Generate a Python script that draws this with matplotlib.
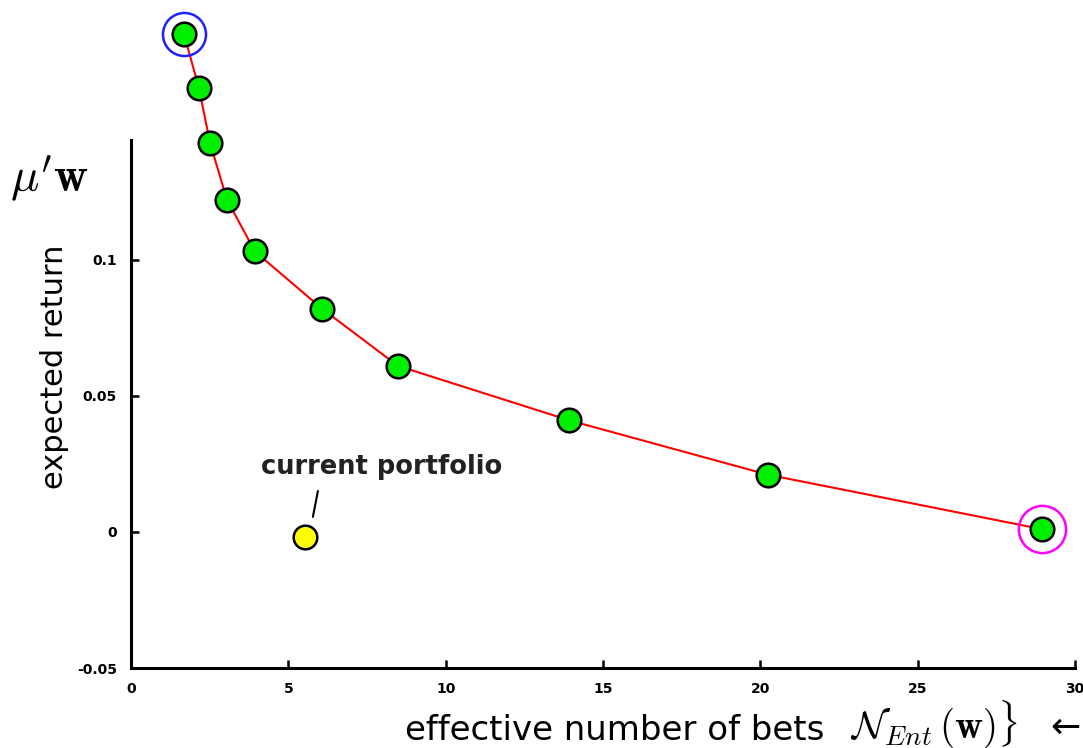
import matplotlib
matplotlib.use("Agg")
import matplotlib.pyplot as plt

# data
frontier_x = [1.68, 2.16, 2.51, 3.05, 3.94, 6.07, 8.48, 13.92, 20.24, 28.95]
frontier_y = [0.183, 0.163, 0.143, 0.122, 0.103, 0.082, 0.061, 0.041, 0.021, 0.001]
current_x = [5.53]
current_y = [-0.0018]
x_ticks = [0, 5, 10, 15, 20, 25, 30]
x_ticklabels = ["0", "5", "10", "15", "20", "25", "30"]
y_ticks = [-0.05, 0, 0.05, 0.1]
y_ticklabels = ["-0.05", "0", "0.05", "0.1"]

plt.rcParams['mathtext.fontset'] = 'cm'
fig = plt.figure(figsize=(10.83, 7.48), dpi=100)
ax = fig.add_axes([131/1083, 1 - 668/748, (1075-131)/1083, (668-140)/748])
ax.set_xlim(0, 30)
ax.set_ylim(-0.05, (533-140)/2730)

ax.plot(frontier_x, frontier_y, color='#ff0000', lw=1.5, zorder=2, clip_on=False)
ax.plot(frontier_x, frontier_y, 'o', ms=17, mfc='#00ee00', mec='black', mew=1.8,
        zorder=3, clip_on=False)
ax.plot(current_x, current_y, 'o', ms=17, mfc='#ffff00', mec='black', mew=1.8,
        zorder=3, clip_on=False)
# highlight rings
ax.plot(frontier_x[:1], frontier_y[:1], 'o', ms=31, mfc='none', mec='#2020ff', mew=1.8,
        zorder=4, clip_on=False)
ax.plot(frontier_x[-1:], frontier_y[-1:], 'o', ms=34, mfc='none', mec='#ff00ff', mew=1.8,
        zorder=4, clip_on=False)

ax.text(7.98, 0.0238, 'current portfolio', ha='center', va='center', fontsize=18.5,
        fontweight='bold', color='#222222')
ax.annotate('', xy=(5.78, 0.0055), xytext=(5.94, 0.015),
            arrowprops=dict(arrowstyle='-', color='black', lw=1.5,
                            shrinkA=0, shrinkB=0))

for s in ['top', 'right']:
    ax.spines[s].set_visible(False)
for s in ['left', 'bottom']:
    ax.spines[s].set_linewidth(2.2)
ax.set_xticks(x_ticks)
ax.set_xticklabels(x_ticklabels)
ax.set_yticks(y_ticks)
ax.set_yticklabels(y_ticklabels)
ax.tick_params(direction='in', length=6, width=1.8, labelsize=10, pad=10)
for lab in ax.get_xticklabels() + ax.get_yticklabels():
    lab.set_fontweight('bold')

ax.set_ylabel('expected return', fontsize=22)
ax.yaxis.set_label_coords(-0.066, 0.57)

fig.text(405/1083, 1 - 731/748, 'effective number of bets', fontsize=24.5,
         ha='left', va='center')
fig.text(850/1083, 1 - 724/748, r'$\mathcal{N}_{Ent}\,(\mathbf{w})\}$',
         fontsize=28, ha='left', va='center')
fig.text(1050/1083, 1 - 728/748, '\u2190', fontsize=26, ha='left', va='center')
fig.text(10/1083, 1 - 178/748, r"$\mu'\mathbf{w}$", fontsize=34, ha='left', va='center')

fig.savefig('out.png', dpi=100)
